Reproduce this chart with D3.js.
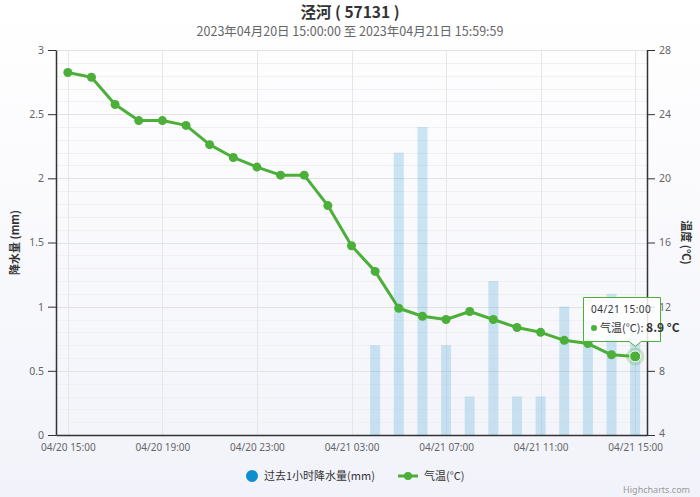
<!DOCTYPE html>
<html>
<head>
<meta charset="utf-8">
<script src="https://cdn.jsdelivr.net/npm/d3@7"></script>
<style>
  html, body { margin: 0; padding: 0; }
  body { width: 700px; height: 497px; overflow: hidden; }
  text { font-family: "Noto Sans CJK SC", "Noto Sans", sans-serif; }
</style>
</head>
<body>
<div id="chart"></div>
<script>
// --- DATI ---
const hours = ["04/20 15:00","04/20 16:00","04/20 17:00","04/20 18:00","04/20 19:00","04/20 20:00",
  "04/20 21:00","04/20 22:00","04/20 23:00","04/21 00:00","04/21 01:00","04/21 02:00","04/21 03:00",
  "04/21 04:00","04/21 05:00","04/21 06:00","04/21 07:00","04/21 08:00","04/21 09:00","04/21 10:00",
  "04/21 11:00","04/21 12:00","04/21 13:00","04/21 14:00","04/21 15:00"];
const precip = [0,0,0,0,0,0,0,0,0,0,0,0,0, 0.7,2.2,2.4,0.7,0.3,1.2,0.3,0.3,1.0,0.9,1.1,0.8];
const temp = [26.6,26.3,24.6,23.6,23.6,23.3,22.1,21.3,20.7,20.2,20.2,18.3,15.8,
  14.2,11.9,11.4,11.2,11.7,11.2,10.7,10.4,9.9,9.7,9.0,8.9];
const xTicks = ["04/20 15:00","04/20 19:00","04/20 23:00","04/21 03:00","04/21 07:00","04/21 11:00","04/21 15:00"];
const precipTicks = [0,0.5,1,1.5,2,2.5,3];
const tempTicks = [4,8,12,16,20,24,28];

const title = "泾河 ( 57131 )";
const subtitle = "2023年04月20日 15:00:00 至 2023年04月21日 15:59:59";

// --- SETUP ---
const width = 700, height = 497;
const pLeft = 56, pRight = 647, pTop = 50, pBottom = 435;
const green = "#4caf3a", blue = "#0d8ecf";

const parse = d3.timeParse("%Y/%m/%d %H:%M");
const toDate = s => parse("2023/" + s);
const fmt = d3.timeFormat("%m/%d %H:%M");
const dates = hours.map(toDate);
const half = 30 * 60 * 1000;

const x = d3.scaleTime()
  .domain([new Date(+dates[0] - half), new Date(+dates[dates.length - 1] + half)])
  .range([pLeft, pRight]);
const yP = d3.scaleLinear().domain([0, 3]).range([pBottom, pTop]);
const yT = d3.scaleLinear().domain([4, 28]).range([pBottom, pTop]);

const svg = d3.select("#chart").append("svg")
  .attr("width", width).attr("height", height);

const defs = svg.append("defs");
const grad = defs.append("linearGradient").attr("id", "bg").attr("x1", 0).attr("y1", 0).attr("x2", 0).attr("y2", 1);
grad.append("stop").attr("offset", "0%").attr("stop-color", "#ffffff");
grad.append("stop").attr("offset", "100%").attr("stop-color", "#f2f3fa");
svg.append("rect").attr("width", width).attr("height", height).attr("fill", "url(#bg)");

// Griglia
const grid = svg.append("g");
grid.selectAll(".minor").data(d3.range(0, 31).map(i => i / 10))
  .join("line")
  .attr("x1", pLeft).attr("x2", pRight)
  .attr("y1", d => Math.round(yP(d)) + 0.5).attr("y2", d => Math.round(yP(d)) + 0.5)
  .attr("stroke", "#f0f0f0");
grid.selectAll(".major").data(precipTicks)
  .join("line")
  .attr("x1", pLeft).attr("x2", pRight)
  .attr("y1", d => Math.round(yP(d)) + 0.5).attr("y2", d => Math.round(yP(d)) + 0.5)
  .attr("stroke", "#e2e2e2");
grid.selectAll(".vgrid").data(xTicks.map(toDate))
  .join("line")
  .attr("x1", d => Math.round(x(d)) + 0.5).attr("x2", d => Math.round(x(d)) + 0.5)
  .attr("y1", pTop).attr("y2", pBottom)
  .attr("stroke", "#e6e6e6");

// Barre (precipitazioni)
const barW = 10;
svg.append("g").selectAll("rect")
  .data(dates.map((d, i) => ({ d, v: precip[i] })).filter(p => p.v > 0))
  .join("rect")
  .attr("x", p => x(p.d) - barW / 2)
  .attr("width", barW)
  .attr("y", p => yP(p.v))
  .attr("height", p => pBottom - yP(p.v))
  .attr("fill", blue).attr("fill-opacity", 0.2);

// Linea temperatura
const pts = dates.map((d, i) => ({ d, v: temp[i] }));
svg.append("path").datum(pts)
  .attr("d", d3.line().x(p => x(p.d)).y(p => yT(p.v)))
  .attr("fill", "none").attr("stroke", green).attr("stroke-width", 3)
  .attr("stroke-linejoin", "round");
svg.append("g").selectAll("circle").data(pts.slice(0, -1))
  .join("circle")
  .attr("cx", p => x(p.d)).attr("cy", p => yT(p.v)).attr("r", 4.5)
  .attr("fill", green);

// Punto evidenziato
const last = pts[pts.length - 1];
svg.append("circle").attr("cx", x(last.d)).attr("cy", yT(last.v)).attr("r", 9)
  .attr("fill", green).attr("fill-opacity", 0.25);
svg.append("circle").attr("cx", x(last.d)).attr("cy", yT(last.v)).attr("r", 5.5)
  .attr("fill", green).attr("stroke", "#fff").attr("stroke-width", 1);

// Assi
const axisColor = "#333";
const tickColor = "#666";
const tickFont = "'Noto Sans', sans-serif";

const ax = svg.append("g").attr("transform", `translate(0,${pBottom})`)
  .call(d3.axisBottom(x).tickValues(xTicks.map(toDate)).tickFormat(fmt).tickSize(0).tickPadding(9));
ax.select(".domain").attr("stroke", axisColor).attr("stroke-width", 1.5);
ax.selectAll("text").attr("fill", tickColor).style("font-size", "10px").style("font-family", tickFont);

const ayl = svg.append("g").attr("transform", `translate(${pLeft},0)`)
  .call(d3.axisLeft(yP).tickValues(precipTicks).tickFormat(d3.format("~g")).tickSize(8).tickPadding(4).tickSizeOuter(0));
ayl.select(".domain").attr("stroke", axisColor).attr("stroke-width", 1.5);
ayl.selectAll(".tick line").attr("stroke", axisColor);
ayl.selectAll("text").attr("fill", tickColor).style("font-size", "10.5px").style("font-family", tickFont);

const ayr = svg.append("g").attr("transform", `translate(${pRight},0)`)
  .call(d3.axisRight(yT).tickValues(tempTicks).tickSize(8).tickPadding(4).tickSizeOuter(0));
ayr.select(".domain").attr("stroke", axisColor).attr("stroke-width", 1.5);
ayr.selectAll(".tick line").attr("stroke", axisColor);
ayr.selectAll("text").attr("fill", tickColor).style("font-size", "10.5px").style("font-family", tickFont)
  .attr("dy", d => d === 4 ? "0.1em" : "0.32em");

// Titoli assi
svg.append("text").attr("transform", `translate(19,${(pTop + pBottom) / 2}) rotate(-90)`)
  .attr("text-anchor", "middle").attr("fill", "#333").style("font-size", "11px").style("font-weight", "bold")
  .text("降水量 (mm)");
svg.append("text").attr("transform", `translate(682,${(pTop + pBottom) / 2}) rotate(90)`)
  .attr("text-anchor", "middle").attr("fill", "#333").style("font-size", "11px").style("font-weight", "bold")
  .text("温度 (°C)");

// Titolo
svg.append("text").attr("x", width / 2).attr("y", 18).attr("text-anchor", "middle")
  .attr("fill", "#333").style("font-size", "15.5px").style("font-weight", "bold").text(title);
svg.append("text").attr("x", width / 2).attr("y", 36).attr("text-anchor", "middle")
  .attr("fill", "#666").style("font-size", "12.5px").text(subtitle);

// Tooltip
const tx = x(last.d), ty = yT(last.v);
const tip = svg.append("g");
const bx = 583, by = 297, bw = 77, bh = 44;
tip.append("path")
  .attr("d", `M${bx + 0.5},${by + 0.5} h${bw} v${bh} H${tx + 6} L${tx},${ty - 10} L${tx - 6},${by + bh + 0.5} H${bx + 0.5} Z`)
  .attr("fill", "rgba(255,255,255,0.85)").attr("stroke", green).attr("stroke-width", 1);
tip.append("text").attr("x", bx + 8).attr("y", by + 16).attr("fill", "#333")
  .style("font-size", "10px").style("font-family", tickFont).style("letter-spacing", "0.5px").text("04/21 15:00");
tip.append("circle").attr("cx", bx + 11).attr("cy", by + 31).attr("r", 3).attr("fill", green);
const tt = tip.append("text").attr("x", bx + 17).attr("y", by + 35).attr("fill", "#333").style("font-size", "11px");
tt.append("tspan").text("气温(°C): ");
tt.append("tspan").style("font-weight", "bold").style("font-size", "12px").text(last.v.toFixed(1) + " °C");

// Legenda
const lg = svg.append("g");
lg.append("circle").attr("cx", 252).attr("cy", 476).attr("r", 6).attr("fill", blue);
lg.append("text").attr("x", 264).attr("y", 480).attr("fill", "#333").style("font-size", "11px").text("过去1小时降水量(mm)");
lg.append("line").attr("x1", 398).attr("x2", 418).attr("y1", 476).attr("y2", 476).attr("stroke", green).attr("stroke-width", 3);
lg.append("circle").attr("cx", 408).attr("cy", 476).attr("r", 4).attr("fill", green);
lg.append("text").attr("x", 424).attr("y", 480).attr("fill", "#333").style("font-size", "11px").text("气温(°C)");

// Credits
svg.append("text").attr("x", 690).attr("y", 493).attr("text-anchor", "end")
  .attr("fill", "#999").style("font-size", "9px").style("font-family", tickFont).text("Highcharts.com");
</script>
</body>
</html>
